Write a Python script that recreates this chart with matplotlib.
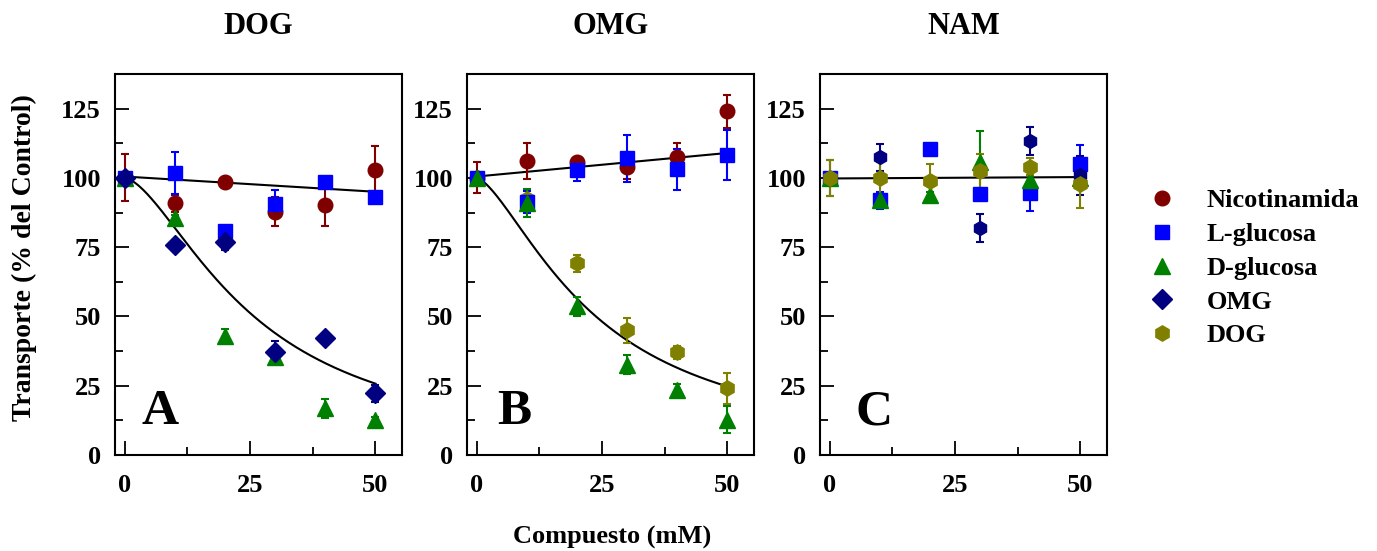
import numpy as np
import matplotlib
matplotlib.use('Agg')
import matplotlib.pyplot as plt

plt.rcParams['font.family'] = ['Liberation Serif', 'DejaVu Serif']
plt.rcParams['font.weight'] = 'bold'

x = [0, 10, 20, 30, 40, 50]

# Panel A - DOG transport
a_nam = [100, 90.8, 98.7, 87.8, 90.2, 102.8]
a_nam_err = [8.5, 3, 1, 5.3, 7.4, 8.8]
a_lglu = [100, 101.7, 81, 90.7, 98.7, 93.1]
a_lglu_err = [2, 7.5, 1, 5, 1, 1]
a_dglu = [100, 85.6, 42.8, 35.5, 16.8, 12.6]
a_dglu_err = [1, 1, 2.5, 1.5, 3.5, 1]
a_omg = [100, 75.7, 76.9, 37.3, 42.1, 22.2]
a_omg_err = [1, 1, 3, 4, 1, 3]
a_line = (100.5, 95.0)
a_hill = (100, 25.8, 1.6)

# Panel B - OMG transport
b_nam = [100, 106.2, 105.6, 104.0, 107.6, 124.0]
b_nam_err = [5.6, 6.5, 1.5, 4.5, 5, 6]
b_lglu = [100, 91.4, 102.8, 107.1, 103.1, 108.2]
b_lglu_err = [1, 4, 4, 8.5, 7.5, 9]
b_dglu = [100, 91.0, 53.6, 32.6, 23.5, 12.8]
b_dglu_err = [1, 5, 3.5, 3.5, 2, 5]
b_dog = [100, 92.5, 69.2, 45.0, 37.0, 24.0]
b_dog_err = [1, 1, 3, 4.5, 2.5, 5.5]
b_line = (100.5, 109.0)
b_hill = (100, 23.8, 1.5)

# Panel C - NAM transport
c_lglu = [100, 91.9, 110.6, 94.1, 94.4, 105.2]
c_lglu_err = [6.5, 3, 1, 1.5, 6.5, 6.5]
c_dglu = [100, 92.0, 94.0, 105.9, 99.3, 100.0]
c_dglu_err = [1, 1, 1, 11, 4, 4]
c_omg = [100, 107.4, 99.0, 82.0, 113.2, 101.0]
c_omg_err = [1, 5, 1, 5, 5, 7]
c_dog = [100, 99.9, 98.9, 102.5, 104.1, 97.7]
c_dog_err = [6.5, 6, 6, 6, 3, 8.5]
c_line = (99.8, 100.3)

titles = ['DOG', 'OMG', 'NAM']
letters = ['A', 'B', 'C']
letter_x = [0.094, 0.104, 0.123]

RED = '#800000'
BLUE = '#0000ff'
GREEN = '#008000'
NAVY = '#000080'
OLIVE = '#808000'

styles = {
    'Nicotinamida': dict(marker='o', color=RED, ms=10.5),
    'L-glucosa': dict(marker='s', color=BLUE, ms=9.5),
    'D-glucosa': dict(marker='^', color=GREEN, ms=11.5),
    'OMG': dict(marker='D', color=NAVY, ms=10),
    'DOG': dict(marker='h', color=OLIVE, ms=11),
}


def hill(xs, top, c, n):
    return top / (1 + (xs / c) ** n)


def pts(ax, y, err, name, marker=None):
    st = dict(styles[name])
    if marker is not None:
        st['marker'] = marker
    ax.errorbar(x, y, yerr=err, fmt=st['marker'], color=st['color'],
                ms=st['ms'], mec=st['color'], elinewidth=1.5, capsize=3,
                capthick=1.5, zorder=3)


fig = plt.figure(figsize=(13.77, 5.51), dpi=100)
lefts = [115 / 1377, 467 / 1377, 820 / 1377]
axes = [fig.add_axes([l, 1 - 455 / 551, 287 / 1377, 381 / 551]) for l in lefts]

xs = np.linspace(0, 50, 200)

ax = axes[0]
ax.plot([0, 50], a_line, color='black', lw=1.5, zorder=2)
ax.plot(xs, hill(xs, *a_hill), color='black', lw=1.5, zorder=2)
pts(ax, a_nam, a_nam_err, 'Nicotinamida')
pts(ax, a_lglu, a_lglu_err, 'L-glucosa')
pts(ax, a_dglu, a_dglu_err, 'D-glucosa')
pts(ax, a_omg, a_omg_err, 'OMG')

ax = axes[1]
ax.plot([0, 50], b_line, color='black', lw=1.5, zorder=2)
ax.plot(xs, hill(xs, *b_hill), color='black', lw=1.5, zorder=2)
pts(ax, b_dog, b_dog_err, 'DOG')
pts(ax, b_nam, b_nam_err, 'Nicotinamida')
pts(ax, b_lglu, b_lglu_err, 'L-glucosa')
pts(ax, b_dglu, b_dglu_err, 'D-glucosa')

ax = axes[2]
ax.plot([0, 50], c_line, color='black', lw=1.5, zorder=2)
pts(ax, c_lglu, c_lglu_err, 'L-glucosa')
pts(ax, c_dglu, c_dglu_err, 'D-glucosa')
pts(ax, c_omg, c_omg_err, 'OMG', marker='h')
pts(ax, c_dog, c_dog_err, 'DOG')

for ax, t, l, lx in zip(axes, titles, letters, letter_x):
    ax.set_xlim(-1.9, 55.3)
    ax.set_ylim(0, 137.5)
    ax.set_xticks([0, 25, 50])
    ax.set_xticks([12.5, 37.5], minor=True)
    ax.set_yticks([0, 25, 50, 75, 100, 125])
    ax.set_yticks([12.5, 37.5, 62.5, 87.5, 112.5], minor=True)
    ax.tick_params(which='both', direction='in', width=1.3, labelsize=19)
    ax.tick_params(axis='y', pad=10)
    ax.tick_params(axis='x', pad=14)
    ax.tick_params(which='major', length=10)
    ax.tick_params(which='minor', length=6)
    for lab in ax.get_xticklabels() + ax.get_yticklabels():
        lab.set_fontweight('bold')
    for s in ax.spines.values():
        s.set_linewidth(1.5)
    ax.set_title(t, fontsize=22, fontweight='bold', pad=29)
    ax.text(lx, 0.081, l, transform=ax.transAxes, fontsize=37, fontweight='bold')

axes[0].set_ylabel('Transporte (% del Control)', fontsize=20, fontweight='bold')
axes[0].yaxis.set_label_coords(-0.272, 0.517)
fig.text(612 / 1377, 1 - 537 / 551, 'Compuesto (mM)', ha='center', va='center',
         fontsize=19, fontweight='bold')

handles = [plt.Line2D([], [], ls='none', marker=st['marker'], color=st['color'],
                      ms=st['ms']) for st in styles.values()]
fig.legend(handles, list(styles.keys()), loc='upper left',
           bbox_to_anchor=(1118 / 1377, 1 - 165 / 551), frameon=False,
           prop=dict(size=19, weight='bold'), labelspacing=0.39,
           handletextpad=0.95, handlelength=1.5)

fig.savefig('out.png', dpi=100)
